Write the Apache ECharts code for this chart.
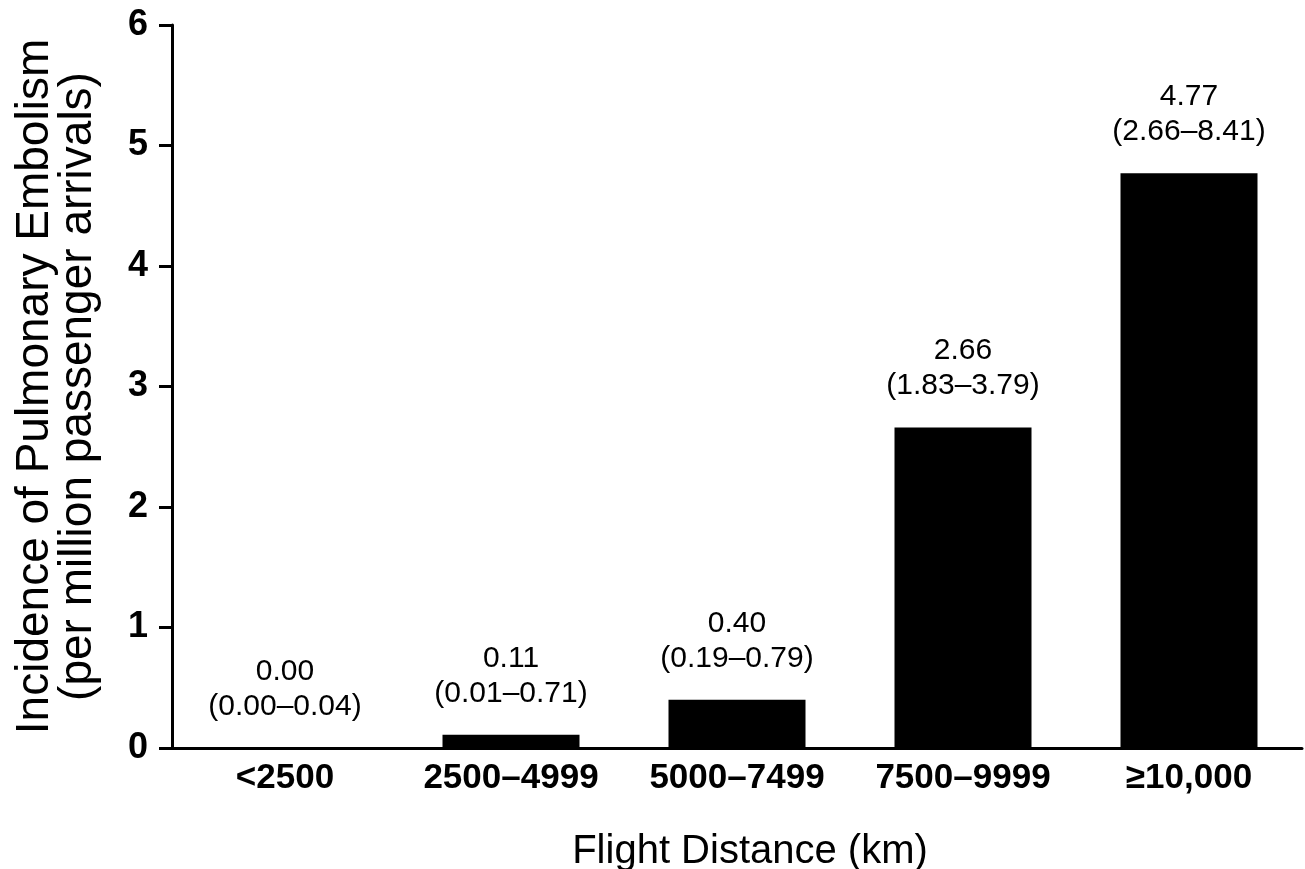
<!DOCTYPE html>
<html>
<head>
<meta charset="utf-8">
<script src="https://cdn.jsdelivr.net/npm/echarts@6/dist/echarts.min.js"></script>
<style>
  html, body { margin: 0; padding: 0; background: #fff; }
  #chart { width: 1305px; height: 869px; }
</style>
</head>
<body>
<div id="chart"></div>
<script>
const categories = ['<2500', '2500\u20134999', '5000\u20137499', '7500\u20139999', '\u226510,000'];
const incidence = [0.00, 0.11, 0.40, 2.66, 4.77];
const ciLow = [0.00, 0.01, 0.19, 1.83, 2.66];
const ciHigh = [0.04, 0.71, 0.79, 3.79, 8.41];
const yMin = 0, yMax = 6, yStep = 1;

const FONT = "'Liberation Sans', Arial, Helvetica, sans-serif";
const chart = echarts.init(document.getElementById('chart'), null, { renderer: 'canvas' });

chart.setOption({
  backgroundColor: '#ffffff',
  animation: false,
  grid: { left: 172, right: 3, top: 25, bottom: 121, containLabel: false, outerBoundsMode: 'none' },
  xAxis: {
    type: 'category',
    data: categories,
    name: 'Flight Distance (km)',
    nameLocation: 'middle',
    nameGap: 84,
    nameTextStyle: { fontFamily: FONT, fontSize: 40, color: '#000', padding: [0, 0, 0, 26] },
    axisLine: { show: true, lineStyle: { color: '#000', width: 3 } },
    axisTick: { show: false },
    axisLabel: { fontFamily: FONT, fontSize: 35, fontWeight: 'bold', color: '#000', margin: 13, interval: 0 },
    splitLine: { show: false }
  },
  yAxis: {
    type: 'value',
    min: yMin, max: yMax, interval: yStep,
    name: 'Incidence of Pulmonary Embolism\n(per million passenger arrivals)',
    nameLocation: 'middle',
    nameRotate: 90,
    nameGap: 72,
    nameMoveOverlap: false,
    nameTextStyle: { fontFamily: FONT, fontSize: 46, lineHeight: 43, color: '#000' },
    axisLine: { show: true, lineStyle: { color: '#000', width: 3 } },
    axisTick: { show: true, length: 13, lineStyle: { color: '#000', width: 3 } },
    axisLabel: { fontFamily: FONT, fontSize: 36, fontWeight: 'bold', color: '#000', margin: 24 },
    splitLine: { show: false }
  },
  series: [{
    type: 'bar',
    data: incidence,
    barWidth: 137,
    itemStyle: { color: '#000' },
    label: {
      show: true,
      position: 'top',
      distance: 24,
      fontFamily: FONT,
      fontSize: 30,
      lineHeight: 35,
      color: '#000',
      formatter: function (p) {
        const i = p.dataIndex;
        return incidence[i].toFixed(2) + '\n(' + ciLow[i].toFixed(2) + '\u2013' + ciHigh[i].toFixed(2) + ')';
      }
    }
  }]
});
</script>
</body>
</html>
